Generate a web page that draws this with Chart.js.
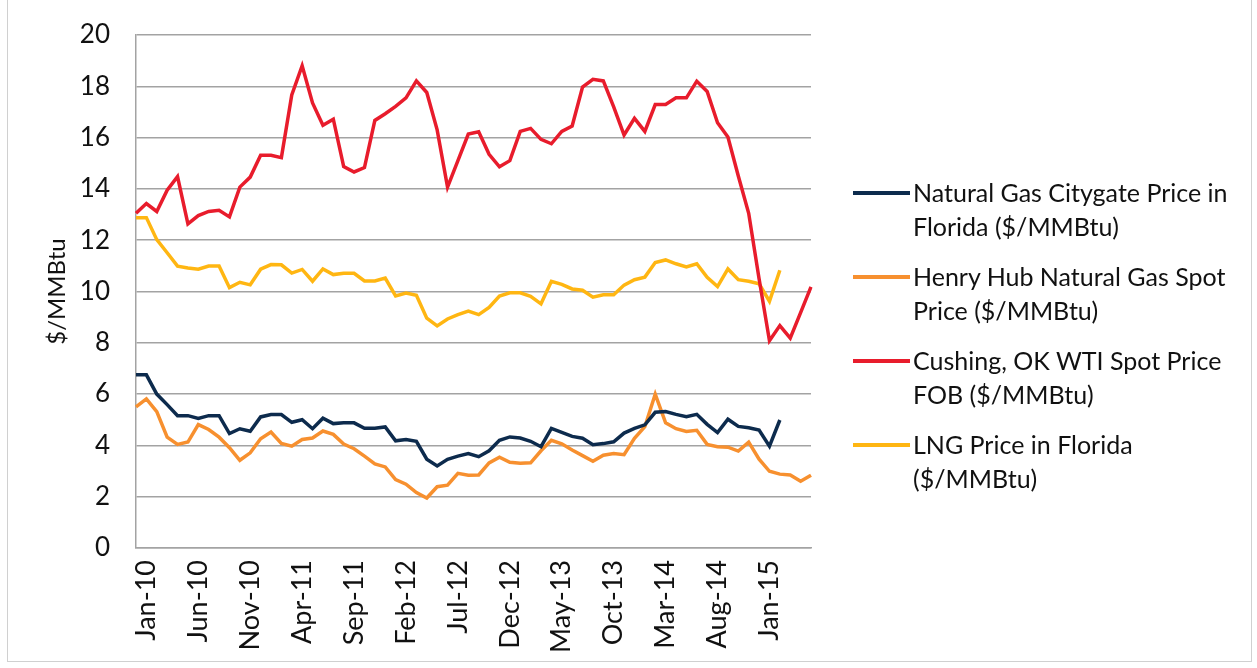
<!DOCTYPE html>
<html>
<head>
<meta charset="utf-8">
<script src="https://cdn.jsdelivr.net/npm/chart.js@4.4.1/dist/chart.umd.min.js"></script>
<style>
  html, body { margin: 0; padding: 0; background: #fff; }
  #frame { position: absolute; left: 7px; top: -1px; width: 1243px; height: 661px; border: 1px solid #d0d0d0; }
  #wrap { position: absolute; left: 0; top: 0; width: 1257px; height: 668px; }
  #legend { position: absolute; left: 853px; top: 175px; font-family: Lato, sans-serif; font-size: 25px; color: #111; }
  .item { position: relative; height: 84px; }
  .swatch { position: absolute; left: 0; top: 16px; width: 57px; height: 4px; }
  .text { position: absolute; left: 60px; top: 0; line-height: 34px; white-space: nowrap; }
</style>
</head>
<body>
<div id="frame"></div>
<div id="wrap"><canvas id="myChart" width="1257" height="668"></canvas></div>
<div id="legend"></div>
<script>
// monthly categories (first point sits on the axis, labels shown every 5 months from Jan-10)
const months = [
  'Dec-09',
  'Jan-10','Feb-10','Mar-10','Apr-10','May-10','Jun-10','Jul-10','Aug-10','Sep-10','Oct-10','Nov-10','Dec-10',
  'Jan-11','Feb-11','Mar-11','Apr-11','May-11','Jun-11','Jul-11','Aug-11','Sep-11','Oct-11','Nov-11','Dec-11',
  'Jan-12','Feb-12','Mar-12','Apr-12','May-12','Jun-12','Jul-12','Aug-12','Sep-12','Oct-12','Nov-12','Dec-12',
  'Jan-13','Feb-13','Mar-13','Apr-13','May-13','Jun-13','Jul-13','Aug-13','Sep-13','Oct-13','Nov-13','Dec-13',
  'Jan-14','Feb-14','Mar-14','Apr-14','May-14','Jun-14','Jul-14','Aug-14','Sep-14','Oct-14','Nov-14','Dec-14',
  'Jan-15','Feb-15','Mar-15','Apr-15','May-15'
];

const citygate = [
  6.75, 6.75, 6.0, 5.59, 5.16, 5.16, 5.05, 5.16, 5.16, 4.46, 4.65, 4.55, 5.11, 5.2, 5.2, 4.9, 5.0,
  4.65, 5.06, 4.85, 4.88, 4.88, 4.67, 4.67, 4.72, 4.18, 4.23, 4.16, 3.46, 3.2, 3.46, 3.58, 3.68,
  3.56, 3.79, 4.2, 4.33, 4.29, 4.16, 3.95, 4.66, 4.51, 4.35, 4.28, 4.03, 4.07, 4.14, 4.48, 4.66,
  4.8, 5.29, 5.32, 5.21, 5.12, 5.21, 4.82, 4.5, 5.02, 4.74, 4.69, 4.6, 3.97, 4.99, null, null, null
];

const henryHub = [
  5.5, 5.81, 5.32, 4.32, 4.04, 4.13, 4.81, 4.62, 4.32, 3.91, 3.42, 3.71, 4.26, 4.52, 4.08, 3.97, 4.23,
  4.29, 4.56, 4.43, 4.05, 3.87, 3.58, 3.28, 3.16, 2.67, 2.49, 2.16, 1.95, 2.39, 2.45, 2.91, 2.84,
  2.85, 3.32, 3.54, 3.34, 3.3, 3.32, 3.79, 4.2, 4.06, 3.82, 3.6, 3.38, 3.62, 3.68, 3.64, 4.28,
  4.73, 6.0, 4.88, 4.65, 4.54, 4.59, 4.04, 3.95, 3.93, 3.78, 4.13, 3.46, 2.99, 2.88, 2.85, 2.6, 2.84
];

const wti = [
  13.05, 13.43, 13.12, 13.95, 14.48, 12.64, 12.96, 13.12, 13.17, 12.91, 14.07, 14.46, 15.31, 15.31, 15.22, 17.66, 18.8,
  17.35, 16.48, 16.72, 14.87, 14.66, 14.83, 16.67, 16.93, 17.22, 17.55, 18.21, 17.76, 16.3, 14.07, 15.1, 16.14,
  16.23, 15.35, 14.86, 15.1, 16.24, 16.36, 15.93, 15.76, 16.24, 16.45, 17.97, 18.27, 18.21, 17.2, 16.1, 16.75,
  16.24, 17.29, 17.29, 17.55, 17.55, 18.2, 17.8, 16.58, 16.02, 14.5, 13.05, 10.5, 8.08, 8.67, 8.18, 9.18, 10.18
];

const lng = [
  12.88, 12.88, 12.02, 11.51, 10.99, 10.92, 10.87, 10.99, 10.99, 10.15, 10.36, 10.26, 10.87, 11.05, 11.04, 10.72, 10.86,
  10.4, 10.88, 10.66, 10.71, 10.71, 10.41, 10.41, 10.52, 9.83, 9.94, 9.85, 8.96, 8.66, 8.93, 9.1, 9.24,
  9.1, 9.38, 9.82, 9.95, 9.95, 9.81, 9.52, 10.4, 10.28, 10.1, 10.05, 9.78, 9.87, 9.87, 10.25, 10.46,
  10.56, 11.13, 11.23, 11.08, 10.96, 11.08, 10.55, 10.19, 10.88, 10.46, 10.4, 10.3, 9.62, 10.83, null, null, null
];

const legendText = [
  ['Natural Gas Citygate Price in', 'Florida ($/MMBtu)'],
  ['Henry Hub Natural Gas Spot', 'Price ($/MMBtu)'],
  ['Cushing, OK WTI Spot Price', 'FOB ($/MMBtu)'],
  ['LNG Price in Florida', '($/MMBtu)']
];
const colors = ['#0d2b4d', '#f7902f', '#e81c2c', '#ffb612'];
const series = [citygate, henryHub, wti, lng];

const gridColor = '#a3a3a3';
const fontFamily = 'Lato, sans-serif';

const ctx = document.getElementById('myChart').getContext('2d');
const myChart = new Chart(ctx, {
    type: 'line',
    data: {
        labels: months,
        datasets: series.map((values, i) => ({
            label: legendText[i].join(' '),
            data: values,
            borderColor: colors[i],
            backgroundColor: colors[i],
            borderWidth: 3.5,
            pointRadius: 0,
            tension: 0,
            spanGaps: false
        }))
    },
    options: {
        responsive: false,
        animation: false,
        layout: { padding: { left: 0, right: 446, top: 35, bottom: 0 } },
        plugins: {
            legend: { display: false },
            tooltip: { enabled: false }
        },
        scales: {
            x: {
                offset: false,
                grid: { display: false, drawTicks: false },
                border: { display: true, color: gridColor, width: 1.5 },
                ticks: {
                    autoSkip: false,
                    minRotation: 90,
                    maxRotation: 90,
                    padding: 12,
                    color: '#111',
                    font: { family: fontFamily, size: 27 },
                    callback: function(value, index) {
                        return index % 5 === 1 ? months[index] : '';
                    }
                },
                afterFit: function(scale) { scale.height = 120; }
            },
            y: {
                min: 0,
                max: 20,
                // invisible tick marks push the labels left without adding top padding
                grid: { color: gridColor, lineWidth: 1.5, drawTicks: true, tickLength: 22, tickColor: 'rgba(0,0,0,0)' },
                border: { display: true, color: gridColor, width: 1.5 },
                ticks: {
                    stepSize: 2,
                    padding: 4,
                    color: '#111',
                    font: { family: fontFamily, size: 26 }
                },
                title: {
                    display: true,
                    text: '$/MMBtu',
                    color: '#111',
                    padding: { top: 43 },
                    font: { family: fontFamily, size: 24 }
                },
                afterFit: function(scale) { scale.width = 136; }
            }
        }
    }
});

// legend built from the chart's datasets
const legendEl = document.getElementById('legend');
myChart.data.datasets.forEach((ds, i) => {
    const item = document.createElement('div');
    item.className = 'item';
    const sw = document.createElement('div');
    sw.className = 'swatch';
    sw.style.background = ds.borderColor;
    const txt = document.createElement('div');
    txt.className = 'text';
    txt.innerHTML = legendText[i].join('<br>');
    item.appendChild(sw);
    item.appendChild(txt);
    legendEl.appendChild(item);
});
</script>
</body>
</html>
